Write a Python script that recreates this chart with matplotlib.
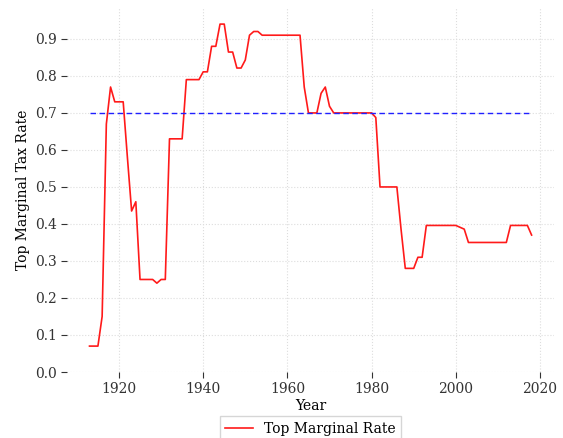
import matplotlib
matplotlib.use("Agg")
import matplotlib.pyplot as plt

# ── Datos: tasa marginal máxima EE.UU. ───────────────────────────────────────
years = list(range(1913, 2019))
rates = [
    0.07, 0.07, 0.07, 0.15, 0.67, 0.77, 0.73, 0.73, 0.73, 0.58,   # 1913-1922
    0.435, 0.46, 0.25, 0.25, 0.25, 0.25, 0.24, 0.25, 0.25, 0.63,  # 1923-1932
    0.63, 0.63, 0.63, 0.79, 0.79, 0.79, 0.79, 0.811, 0.811, 0.88, # 1933-1942
    0.88, 0.94, 0.94, 0.8645, 0.8645, 0.8213, 0.8213, 0.843, 0.91, 0.92,  # 1943-1952
    0.92, 0.91, 0.91, 0.91, 0.91, 0.91, 0.91, 0.91, 0.91, 0.91,   # 1953-1962
    0.91, 0.77, 0.70, 0.70, 0.70, 0.753, 0.77, 0.718, 0.70, 0.70, # 1963-1972
    0.70, 0.70, 0.70, 0.70, 0.70, 0.70, 0.70, 0.70, 0.6875, 0.50, # 1973-1982
    0.50, 0.50, 0.50, 0.50, 0.385, 0.28, 0.28, 0.28, 0.31, 0.31,  # 1983-1992
    0.396, 0.396, 0.396, 0.396, 0.396, 0.396, 0.396, 0.396, 0.391, 0.386,  # 1993-2002
    0.35, 0.35, 0.35, 0.35, 0.35, 0.35, 0.35, 0.35, 0.35, 0.35,   # 2003-2012
    0.396, 0.396, 0.396, 0.396, 0.396, 0.37,                      # 2013-2018
]
reference_rate = 0.70

plt.rcParams["font.family"] = "DejaVu Serif"
plt.rcParams["font.size"] = 10

fig = plt.figure(figsize=(5.63, 4.38), dpi=100)
ax = fig.add_axes([67.4 / 563, 1 - 372 / 438, 486.3 / 563, 364 / 438])

ax.plot(years, rates, color="#ff1a1a", lw=1.2, label="Top Marginal Rate")
ax.plot([years[0], years[-1]], [reference_rate, reference_rate],
        color="#2020ff", lw=1.0, ls=(0, (4, 2.5)))

ax.set_ylim(bottom=0)
ax.set_yticks([i / 10 for i in range(10)])
ax.set_xticks([1920, 1940, 1960, 1980, 2000, 2020])
ax.grid(True, color="#dddddd", ls=":", lw=0.8)
for s in ax.spines.values():
    s.set_visible(False)
ax.tick_params(colors="#333333", length=4, width=0.8, labelsize=10)

ax.set_xlabel("Year", labelpad=2)
ax.set_ylabel("Top Marginal Tax Rate")
ax.legend(loc="upper center", bbox_to_anchor=(0.5, -(416 - 372) / 364),
          borderaxespad=0, frameon=True, fancybox=False, fontsize=10,
          edgecolor="#cccccc")

fig.savefig("out.png", dpi=100, facecolor="white")
